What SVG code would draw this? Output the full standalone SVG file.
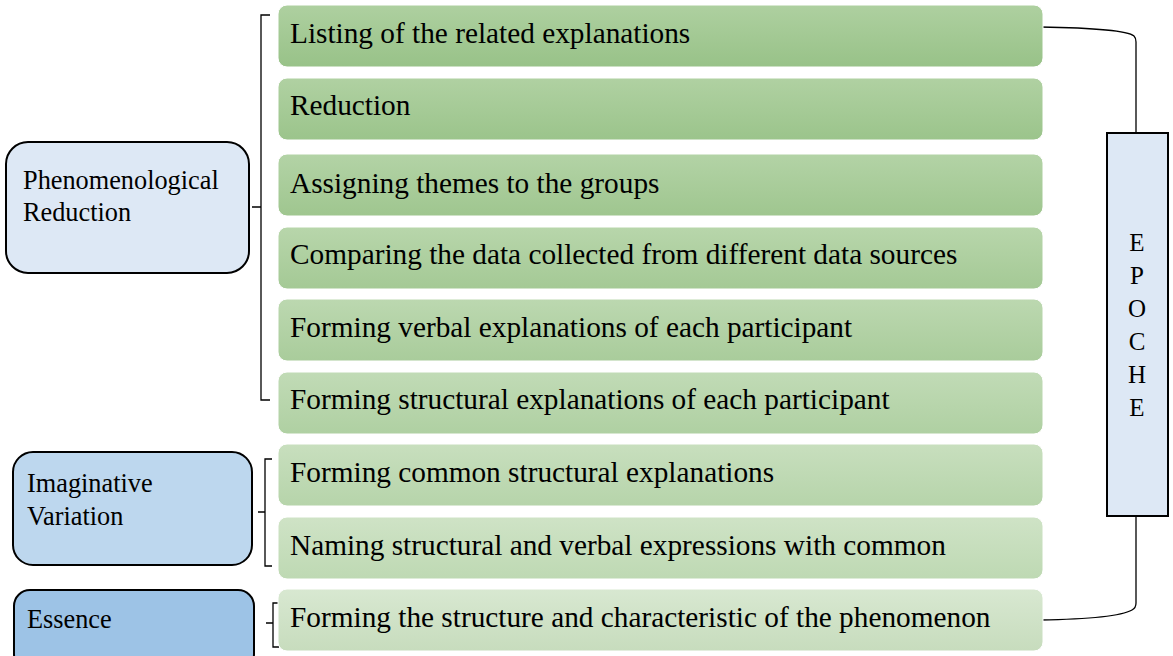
<svg xmlns="http://www.w3.org/2000/svg" width="1173" height="656" viewBox="0 0 1173 656">
<defs>
<linearGradient id="g1" x1="0" y1="0" x2="0" y2="1"><stop offset="0" stop-color="#aed0a0"/><stop offset="1" stop-color="#98c288"/></linearGradient>
<linearGradient id="g2" x1="0" y1="0" x2="0" y2="1"><stop offset="0" stop-color="#b0d1a2"/><stop offset="1" stop-color="#9bc48b"/></linearGradient>
<linearGradient id="g3" x1="0" y1="0" x2="0" y2="1"><stop offset="0" stop-color="#b3d3a6"/><stop offset="1" stop-color="#9fc68f"/></linearGradient>
<linearGradient id="g4" x1="0" y1="0" x2="0" y2="1"><stop offset="0" stop-color="#b8d6ab"/><stop offset="1" stop-color="#a4c995"/></linearGradient>
<linearGradient id="g5" x1="0" y1="0" x2="0" y2="1"><stop offset="0" stop-color="#bcd8b0"/><stop offset="1" stop-color="#a9cc9b"/></linearGradient>
<linearGradient id="g6" x1="0" y1="0" x2="0" y2="1"><stop offset="0" stop-color="#c1dbb6"/><stop offset="1" stop-color="#afd0a2"/></linearGradient>
<linearGradient id="g7" x1="0" y1="0" x2="0" y2="1"><stop offset="0" stop-color="#c8dfbe"/><stop offset="1" stop-color="#b6d4aa"/></linearGradient>
<linearGradient id="g8" x1="0" y1="0" x2="0" y2="1"><stop offset="0" stop-color="#cfe3c6"/><stop offset="1" stop-color="#bed9b3"/></linearGradient>
<linearGradient id="g9" x1="0" y1="0" x2="0" y2="1"><stop offset="0" stop-color="#d8e8d1"/><stop offset="1" stop-color="#c7dcbd"/></linearGradient>
</defs>
<style>
.step{stroke:#ffffff;stroke-width:1}
.t{font-family:"Liberation Serif","Times New Roman",serif;font-size:29.3px;fill:#000}
.lt{font-family:"Liberation Serif","Times New Roman",serif;font-size:26.3px;fill:#000}
.cat{stroke:#000;stroke-width:2}
.br{fill:none;stroke:#000;stroke-width:1.3}
.con{fill:none;stroke:#000;stroke-width:1.3}
.ep{font-family:"Liberation Serif","Times New Roman",serif;font-size:25px;fill:#000;text-anchor:middle}
</style>

<g id="connectors">
<path class="br" d="M270,15 H261 V400 H270 M252,207 H261"/>
<path class="br" d="M272,459 H265 V566 H272 M258,512 H265"/>
<path class="br" d="M279,603 H273 V647 H279 M266,623 H273"/>
<path class="con" d="M1040,27 C1100,28 1128,31 1134,36 Q1136,38 1136,42 V133"/>
<path class="con" d="M1136,516 V603 Q1136,608 1132,610 C1125,614 1100,619 1040,620"/>
</g>

<g id="phenomenological-reduction">
<rect class="cat" x="6" y="142" width="243" height="131" rx="22" fill="#dde8f5"/>
<text class="lt" x="23" y="189">Phenomenological</text>
<text class="lt" x="23" y="221">Reduction</text>
</g>
<g id="imaginative-variation">
<rect class="cat" x="13" y="452" width="239" height="113" rx="20" fill="#bdd7ee"/>
<text class="lt" x="27" y="492">Imaginative</text>
<text class="lt" x="27" y="525">Variation</text>
</g>
<g id="essence">
<rect class="cat" x="14" y="590" width="240" height="80" rx="16" fill="#9dc3e6"/>
<text class="lt" x="27" y="628">Essence</text>
</g>

<g id="step1"><rect class="step" x="278" y="5" width="765" height="62" rx="9" fill="url(#g1)"/><text class="t" x="290" y="43">Listing of the related explanations</text></g>
<g id="step2"><rect class="step" x="278" y="78" width="765" height="62" rx="9" fill="url(#g2)"/><text class="t" x="290" y="115">Reduction</text></g>
<g id="step3"><rect class="step" x="278" y="154" width="765" height="62" rx="9" fill="url(#g3)"/><text class="t" x="290" y="193">Assigning themes to the groups</text></g>
<g id="step4"><rect class="step" x="278" y="227" width="765" height="62" rx="9" fill="url(#g4)"/><text class="t" x="290" y="264">Comparing the data collected from different data sources</text></g>
<g id="step5"><rect class="step" x="278" y="299" width="765" height="62" rx="9" fill="url(#g5)"/><text class="t" x="290" y="337">Forming verbal explanations of each participant</text></g>
<g id="step6"><rect class="step" x="278" y="372" width="765" height="62" rx="9" fill="url(#g6)"/><text class="t" x="290" y="409">Forming structural explanations of each participant</text></g>
<g id="step7"><rect class="step" x="278" y="444" width="765" height="62" rx="9" fill="url(#g7)"/><text class="t" x="290" y="482">Forming common structural explanations</text></g>
<g id="step8"><rect class="step" x="278" y="517" width="765" height="62" rx="9" fill="url(#g8)"/><text class="t" x="290" y="555">Naming structural and verbal expressions with common</text></g>
<g id="step9"><rect class="step" x="278" y="589" width="765" height="62" rx="9" fill="url(#g9)"/><text class="t" x="290" y="627">Forming the structure and characteristic of the phenomenon</text></g>

<g id="epoche">
<rect class="cat" x="1107" y="133" width="61" height="383" fill="#dde8f5"/>
<text class="ep" x="1137" y="251">E</text>
<text class="ep" x="1137" y="284">P</text>
<text class="ep" x="1137" y="317">O</text>
<text class="ep" x="1137" y="350">C</text>
<text class="ep" x="1137" y="383">H</text>
<text class="ep" x="1137" y="416">E</text>
</g>
</svg>
